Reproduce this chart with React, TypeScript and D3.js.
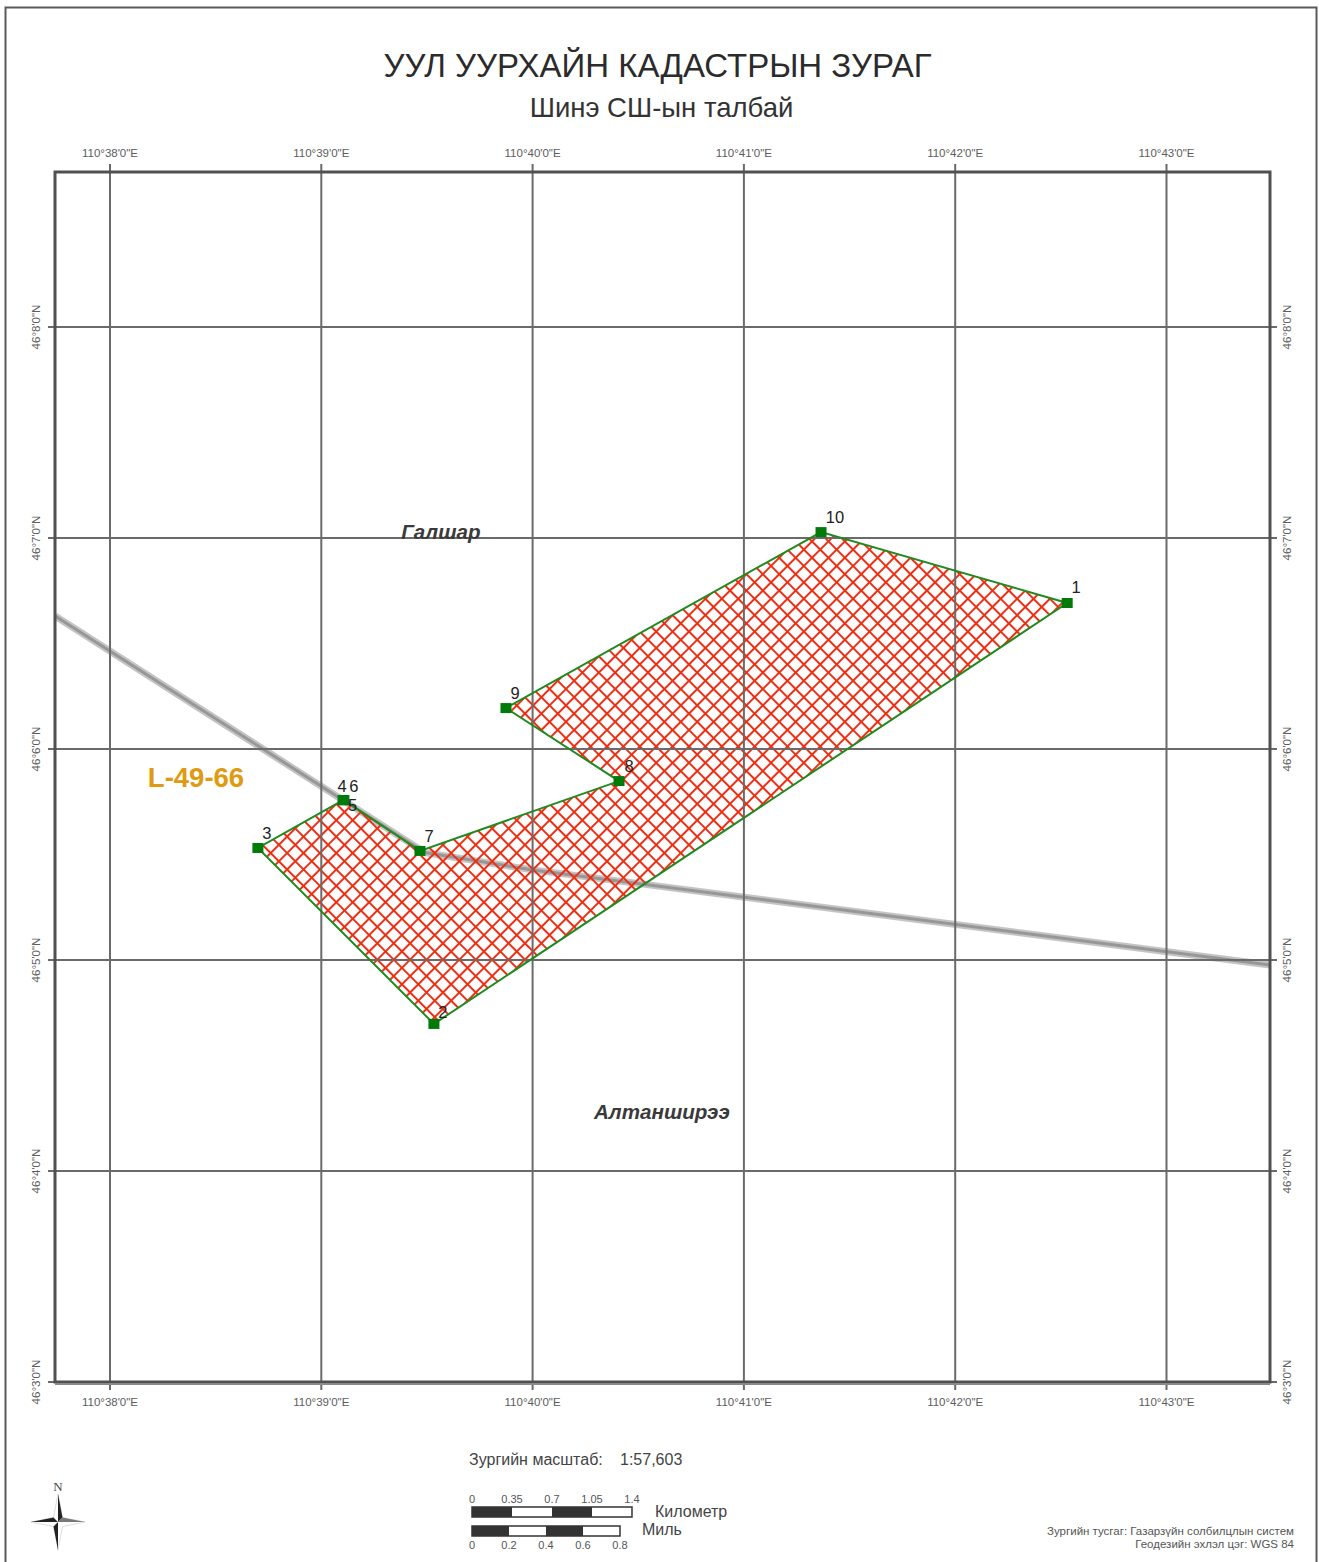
import * as d3 from 'd3';
import { useRef, useEffect } from 'react';

// longitudes / latitudes are stored as minutes past 110° and 46°
const lonTicks = [38, 39, 40, 41, 42, 43];
const latTicks = [3, 4, 5, 6, 7, 8];

const vertexNames = ['1', '2', '3', '4', '5', '6', '7', '8', '9', '10'];
const vertexLon = [42.53, 39.533, 38.7, 39.103, 39.105, 39.107, 39.467, 40.409, 39.874, 41.365];
const vertexLat = [6.692, 4.697, 5.531, 5.758, 5.757, 5.758, 5.517, 5.848, 6.194, 7.028];

const roadLon = [37.74, 39.491, 40.0, 43.49];
const roadLat = [6.63, 5.509, 5.427, 4.976];

const kmLabels = ['0', '0.35', '0.7', '1.05', '1.4'];
const kmValues = [0, 0.35, 0.7, 1.05, 1.4];
const mileLabels = ['0', '0.2', '0.4', '0.6', '0.8'];
const mileValues = [0, 0.2, 0.4, 0.6, 0.8];

const placeNames = ['Галшар', 'Алтанширээ'];
const placeLon = [39.566, 40.612];
const placeLat = [6.995, 4.246];

const sans = '"Liberation Sans", Arial, sans-serif';
const gridColor = '#6a6a6a';
const labelColor = '#5c5c5c';

const App = () => {
    const svgRef = useRef<SVGSVGElement | null>(null);

    useEffect(() => {
        const svg = d3.select(svgRef.current);
        svg.selectAll('*').remove();

        const x = d3.scaleLinear().domain([38, 43]).range([110, 1166.5]);
        const y = d3.scaleLinear().domain([3, 8]).range([1382, 327]);
        const left = 55, right = 1270, top = 172, bottom = 1382;

        // hatch, lines kept inside the tile so they are not clipped
        const step = 11.6;
        const defs = svg.append('defs');
        const pattern = defs.append('pattern')
            .attr('id', 'hatch')
            .attr('patternUnits', 'userSpaceOnUse')
            .attr('width', step)
            .attr('height', step)
            .attr('patternTransform', 'rotate(45)');
        pattern.append('line').attr('x1', 0).attr('y1', step / 2).attr('x2', step).attr('y2', step / 2)
            .attr('stroke', '#ec2f14').attr('stroke-width', 2);
        pattern.append('line').attr('x1', step / 2).attr('y1', 0).attr('x2', step / 2).attr('y2', step)
            .attr('stroke', '#ec2f14').attr('stroke-width', 2);

        // page border
        svg.append('rect')
            .attr('x', 5.5).attr('y', 7.5).attr('width', 1311).attr('height', 1560)
            .attr('fill', 'none').attr('stroke', '#5a5a5a').attr('stroke-width', 2);

        // title
        svg.append('text').attr('x', 657.5).attr('y', 77).attr('text-anchor', 'middle')
            .attr('font-family', sans).attr('font-size', 33).attr('fill', '#2b2b2b')
            .text('УУЛ УУРХАЙН КАДАСТРЫН ЗУРАГ');
        svg.append('text').attr('x', 661.5).attr('y', 117).attr('text-anchor', 'middle')
            .attr('font-family', sans).attr('font-size', 27.5).attr('fill', '#333')
            .text('Шинэ СШ-ын талбай');

        // tick labels
        const labels = svg.append('g')
            .attr('font-family', sans).attr('font-size', 11.5).attr('fill', labelColor);
        lonTicks.forEach(t => {
            const s = `110°${t}'0"E`;
            labels.append('text').attr('x', x(t)).attr('y', 157).attr('text-anchor', 'middle').text(s);
            labels.append('text').attr('x', x(t)).attr('y', 1406).attr('text-anchor', 'middle').text(s);
        });
        latTicks.forEach(t => {
            const s = `46°${t}'0"N`;
            labels.append('text').attr('transform', `translate(40,${y(t)}) rotate(-90)`)
                .attr('text-anchor', 'middle').text(s);
            labels.append('text').attr('transform', `translate(1291,${y(t)}) rotate(-90)`)
                .attr('text-anchor', 'middle').text(s);
        });

        // road
        const roadPts = roadLon.map((d, i) => [x(d), y(roadLat[i])] as [number, number]);
        const road = d3.line();
        svg.append('path').attr('d', road(roadPts)).attr('fill', 'none')
            .attr('stroke', '#c4c4c4').attr('stroke-width', 7);
        svg.append('path').attr('d', road(roadPts)).attr('fill', 'none')
            .attr('stroke', '#979797').attr('stroke-width', 3);

        // parcel fill sits under the grid
        const pts = vertexLon.map((d, i) => [x(d), y(vertexLat[i])] as [number, number]);
        const poly = d3.line().curve(d3.curveLinearClosed);
        svg.append('path').attr('d', poly(pts)).attr('fill', 'url(#hatch)');

        // grid and ticks
        const grid = svg.append('g').attr('stroke', gridColor).attr('stroke-width', 2);
        lonTicks.forEach(t => {
            grid.append('line').attr('x1', x(t)).attr('x2', x(t)).attr('y1', top - 8).attr('y2', bottom + 8);
        });
        latTicks.forEach(t => {
            grid.append('line').attr('x1', left - 7).attr('x2', right + 7).attr('y1', y(t)).attr('y2', y(t));
        });

        // frame
        svg.append('rect')
            .attr('x', left).attr('y', top).attr('width', right - left).attr('height', bottom - top)
            .attr('fill', 'none').attr('stroke', '#505050').attr('stroke-width', 3);
        svg.append('line').attr('x1', left).attr('x2', right).attr('y1', bottom + 2).attr('y2', bottom + 2)
            .attr('stroke', '#8a8a8a').attr('stroke-width', 2);

        // parcel outline and vertices
        svg.append('path').attr('d', poly(pts)).attr('fill', 'none')
            .attr('stroke', '#1f8a1f').attr('stroke-width', 2);

        svg.append('g').selectAll('rect').data(pts).enter().append('rect')
            .attr('x', d => d[0] - 5.5).attr('y', d => d[1] - 5)
            .attr('width', 11).attr('height', 10).attr('fill', '#007a0a');

        const nameDx = [9, 9, 9, -1, 9, 10, 9, 10, 9, 14];
        const nameDy = [-10, -6, -9, -8, 11, -8, -9, -9, -9, -9];
        svg.append('g').attr('font-family', sans).attr('font-size', 16.5).attr('fill', '#222')
            .selectAll('text').data(pts).enter().append('text')
            .attr('x', (d, i) => d[0] + nameDx[i]).attr('y', (d, i) => d[1] + nameDy[i])
            .attr('text-anchor', 'middle')
            .text((d, i) => vertexNames[i]);

        // place names
        svg.append('g').attr('font-family', sans).attr('font-size', 20.6)
            .attr('font-weight', 'bold').attr('font-style', 'italic').attr('fill', '#3a3a3a')
            .selectAll('text').data(placeNames).enter().append('text')
            .attr('x', (d, i) => x(placeLon[i])).attr('y', (d, i) => y(placeLat[i]))
            .attr('text-anchor', 'middle')
            .text(d => d);

        svg.append('text').attr('x', 196).attr('y', 787).attr('text-anchor', 'middle')
            .attr('font-family', sans).attr('font-size', 27.5).attr('font-weight', 'bold')
            .attr('fill', '#e09a10').text('L-49-66');

        // scale text
        svg.append('text').attr('x', 469).attr('y', 1465)
            .attr('font-family', sans).attr('font-size', 16).attr('fill', '#444')
            .text('Зургийн масштаб:');
        svg.append('text').attr('x', 620).attr('y', 1465)
            .attr('font-family', sans).attr('font-size', 16).attr('fill', '#444')
            .text('1:57,603');

        // scale bars
        const drawBar = (vals: number[], names: string[], x0: number, x1: number, barY: number, labelY: number) => {
            const s = d3.scaleLinear().domain([0, vals[vals.length - 1]]).range([x0, x1]);
            const g = svg.append('g');
            g.append('rect').attr('x', x0).attr('y', barY).attr('width', x1 - x0).attr('height', 10)
                .attr('fill', '#fff').attr('stroke', '#333').attr('stroke-width', 1.5);
            [vals[0], vals[2]].forEach(v => {
                g.append('rect').attr('x', s(v)).attr('y', barY).attr('height', 10)
                    .attr('width', s(v + vals[1]) - s(v)).attr('fill', '#333');
            });
            g.selectAll('text').data(names).enter().append('text')
                .attr('x', (d, i) => s(vals[i])).attr('y', labelY).attr('text-anchor', 'middle')
                .attr('font-family', sans).attr('font-size', 11).attr('fill', '#555')
                .text(d => d);
        };
        drawBar(kmValues, kmLabels, 472, 632, 1507, 1503);
        drawBar(mileValues, mileLabels, 472, 620, 1526, 1549);

        svg.append('text').attr('x', 655).attr('y', 1517).attr('font-family', sans)
            .attr('font-size', 16).attr('fill', '#444').text('Километр');
        svg.append('text').attr('x', 642).attr('y', 1535).attr('font-family', sans)
            .attr('font-size', 16).attr('fill', '#444').text('Миль');

        // north arrow
        const n = svg.append('g').attr('transform', 'translate(58,1522)');
        n.append('text').attr('x', 0).attr('y', -31).attr('text-anchor', 'middle')
            .attr('font-family', '"Liberation Serif", serif').attr('font-size', 13).attr('fill', '#444').text('N');
        n.append('path').attr('d', 'M0,-28 L4.5,-4.5 L27,0 L4.5,4.5 L0,28 L-4.5,4.5 L-27,0 L-4.5,-4.5 Z')
            .attr('fill', '#fff').attr('stroke', '#bbb').attr('stroke-width', 0.5);
        n.append('path').attr('d', 'M0,-28 L4.5,-4.5 L0,0 Z M-27,0 L-4.5,-4.5 L0,0 Z M0,28 L-4.5,4.5 L0,0 Z')
            .attr('fill', '#222');
        n.append('path').attr('d', 'M27,0 L4.5,-4.5 L0,0 Z').attr('fill', '#777');

        // footnote
        const foot = svg.append('g').attr('font-family', sans).attr('font-size', 11.5)
            .attr('fill', '#555').attr('text-anchor', 'end');
        foot.append('text').attr('x', 1294).attr('y', 1535).text('Зургийн тусгаг: Газарзүйн солбилцлын систем');
        foot.append('text').attr('x', 1294).attr('y', 1548).text('Геодезийн эхлэл цэг: WGS 84');
    }, []);

    return <svg ref={svgRef} width={1319} height={1562} style={{ position: 'absolute', left: 0, top: 0 }}></svg>;
};

export default App;
